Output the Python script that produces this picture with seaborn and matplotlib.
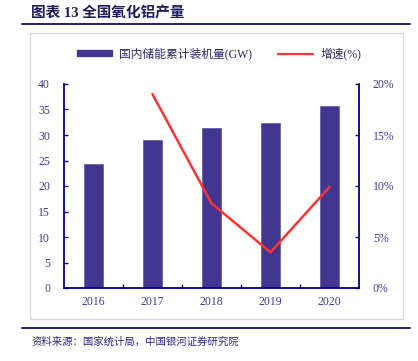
import matplotlib
matplotlib.use("Agg")
import matplotlib.pyplot as plt
import seaborn as sns
import pandas as pd
from matplotlib.patches import Rectangle
from matplotlib.lines import Line2D

years = ["2016", "2017", "2018", "2019", "2020"]
capacity = [24.3, 29.0, 31.3, 32.4, 35.7]
growth_years = ["2017", "2018", "2019", "2020"]
growth = [19.0, 8.3, 3.5, 9.9]
left_ticks = [0, 5, 10, 15, 20, 25, 30, 35, 40]
right_ticks = [0, 5, 10, 15, 20]

bar_label = "国内储能累计装机量(GW)"
line_label = "增速(%)"
title = "图表 13 全国氧化铝产量"
source = "资料来源：国家统计局，中国银河证券研究院"

sns.set_theme(style="white")
plt.rcParams["font.family"] = ["Liberation Serif", "Noto Sans CJK SC", "DejaVu Sans"]

navy = "#000080"
tick_col = "#3b3b94"
bar_col = "#433691"
red = "#ff3333"

fig = plt.figure(figsize=(4.18, 3.61), dpi=100)
ax = fig.add_axes([64/418, 1-288/361, (359-64)/418, (288-84)/361])

df = pd.DataFrame({"year": years, "cap": capacity})
sns.barplot(data=df, x="year", y="cap", color=bar_col, width=0.32, ax=ax,
            saturation=1, edgecolor="#6a60b0", linewidth=0.6)
ax.set_xlim(-0.5, len(years) - 0.5)
ax.set_ylim(0, 40)
ax.set_yticks(left_ticks)
ax.set_xlabel("")
ax.set_ylabel("")

ax2 = ax.twinx()
gdf = pd.DataFrame({"pos": [years.index(y) for y in growth_years], "g": growth})
sns.lineplot(data=gdf, x="pos", y="g", color=red, linewidth=1.8, ax=ax2)
ax2.set_ylim(0, 20)
ax2.set_yticks(right_ticks)
ax2.set_yticklabels([f"{t}%" for t in right_ticks])
ax2.set_xlim(-0.5, len(years) - 0.5)
ax2.set_xlabel("")
ax2.set_ylabel("")

for a in (ax, ax2):
    for s in a.spines.values():
        s.set_visible(False)
ax.spines["left"].set_visible(True)
ax.spines["bottom"].set_visible(True)
ax2.spines["right"].set_visible(True)
for s in [ax.spines["left"], ax.spines["bottom"], ax2.spines["right"]]:
    s.set_color(navy)
    s.set_linewidth(1.3)

ax.tick_params(axis="y", direction="in", length=3, width=1, color=navy,
               labelcolor=tick_col, labelsize=8.5, pad=10, left=True)
ax2.tick_params(axis="y", direction="in", length=3, width=1, color=navy,
                labelcolor=tick_col, labelsize=8.5, pad=10, right=True)
ax.set_xticks([i for i in range(len(years))])
ax.set_xticklabels(years)
ax.set_xticks([i + 0.5 for i in range(len(years) - 1)], minor=True)
ax.tick_params(axis="x", which="major", length=0, labelcolor=tick_col,
               labelsize=8.5, pad=6)
ax.tick_params(axis="x", which="minor", direction="in", length=3, width=1,
               color=navy, bottom=True)

# frame box
fig.patches.append(Rectangle((30/418, 1-319/361), (403-30)/418, (319-33)/361,
                             transform=fig.transFigure, fill=False,
                             edgecolor="#d9d9d9", linewidth=1))
# title and rules
fig.text(31/418, 1-13/361, title, ha="left", va="center", fontsize=10.5,
         fontweight="bold", color="#1c1c5c",
         family=["Liberation Serif", "Noto Sans CJK SC"])
fig.lines.append(Line2D([22/418, 410/418], [1-24/361, 1-24/361],
                        transform=fig.transFigure, color="#1f1f7a", linewidth=1.4))
fig.lines.append(Line2D([22/418, 410/418], [1-328/361, 1-328/361],
                        transform=fig.transFigure, color="#1f1f7a", linewidth=1.4))
fig.text(32/418, 1-342/361, source, ha="left", va="center", fontsize=7.5,
         color="#2a2a8a", style="italic", family=["Noto Sans CJK SC"])

handles = [Rectangle((0, 0), 1, 1, color=bar_col),
           Line2D([0], [0], color=red, linewidth=1.6)]
fig.legend(handles, [bar_label, line_label], loc="center",
           bbox_to_anchor=(219/418, 1-54/361), ncol=2, frameon=False,
           handlelength=3.0, handleheight=0.45, handletextpad=0.6,
           columnspacing=2.2, labelcolor="#2a2a6a",
           prop={"family": ["Liberation Serif", "Noto Sans CJK SC"], "size": 8.5})

fig.savefig("out.png", dpi=100)
